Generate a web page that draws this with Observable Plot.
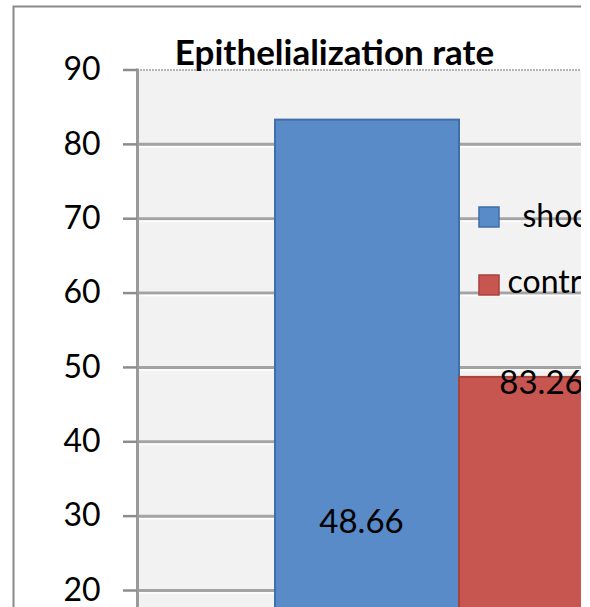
<!DOCTYPE html>
<html>
<head>
<meta charset="utf-8">
<script src="https://cdn.jsdelivr.net/npm/d3@7"></script>
<script src="https://cdn.jsdelivr.net/npm/@observablehq/plot@0.6"></script>
<style>
  html, body { margin: 0; padding: 0; background: white; }
  #wrap { width: 581px; height: 607px; overflow: hidden; position: relative; }
</style>
</head>
<body>
<div id="wrap"></div>
<script>
const title = "Epithelialization rate";
const series = ["shock wave", "control"];
const values = [83.26, 48.66];
const labels = ["48.66", "83.26"];
const colors = ["#588bc8", "#c85650"];
const strokes = ["#3f6fa8", "#a9423d"];
const yTicks = [20, 30, 40, 50, 60, 70, 80, 90];

const data = series.map((s, i) => ({name: s, value: values[i], label: labels[i]}));

const W = 581, H = 607, ML = 137, MT = 69.5;
const labelDx = [-6, -10];
const labelDy = [402, 6];
const legendDy = [147, 215];
const legendTextDx = [385, 370];
const legendTextDy = [146.5, 213];

const marks = [
  // outer chart border
  Plot.frame({stroke: "#8a8a8a", strokeWidth: 2, insetLeft: -(ML - 13), insetTop: -(MT - 6), insetRight: -4, insetBottom: -4}),
  // plot area background
  Plot.frame({fill: "#f2f2f2"}),
  // gridlines
  Plot.ruleY(yTicks.filter(d => d < 90), {stroke: "#a3a3a3", strokeWidth: 3}),
  Plot.ruleY(yTicks.filter(d => d < 90), {stroke: "#ffffff", strokeWidth: 1.5, dy: 2.5}),
  // top plot border (dotted)
  Plot.ruleY([90], {stroke: "#b5b5b5", strokeWidth: 2, strokeDasharray: "2,1"}),
  // bars
  Plot.barY(data, {x: "name", y: "value", fill: "name", stroke: (d, i) => strokes[i], strokeWidth: 2}),
  // value labels
  ...data.map((d, i) => Plot.text([d], {x: "name", y: "value", text: "label", dx: labelDx[i], dy: labelDy[i], fontSize: 33, fill: "black"})),
  // y axis line
  Plot.frame({anchor: "left", stroke: "#9a9a9a", strokeWidth: 3}),
  Plot.axisY(yTicks, {tickSize: 14, tickPadding: 23, fontSize: 32, stroke: "#8c8c8c", strokeWidth: 2.5, fill: "black", label: null, tickFormat: d => String(d)}),
  // title
  Plot.text([title], {frameAnchor: "top-left", dx: 197, dy: -16, fontSize: 35, fontWeight: "bold", textAnchor: "middle", lineAnchor: "middle", fill: "black"}),
  // legend
  ...series.map((s, i) => Plot.dot([s], {frameAnchor: "top-left", dx: 351.5, dy: legendDy[i], symbol: "square", r: 11.3, fill: colors[i], stroke: strokes[i], strokeWidth: 1.5})),
  ...series.map((s, i) => Plot.text([s], {frameAnchor: "top-left", dx: legendTextDx[i], dy: legendTextDy[i], text: d => d, textAnchor: "start", lineAnchor: "middle", fontSize: 32, fill: "black"}))
];

const chart = Plot.plot({
  width: W,
  height: H,
  marginLeft: ML,
  marginTop: MT,
  marginRight: 0,
  marginBottom: 0,
  style: {fontFamily: "Lato, sans-serif", fontSize: "32px", background: "white", overflow: "hidden"},
  x: {type: "band", domain: series, range: [274, 643], padding: 0, axis: null},
  y: {domain: [20, 90], range: [590, MT], axis: null},
  color: {domain: series, range: colors},
  marks
});
document.getElementById("wrap").appendChild(chart);
</script>
</body>
</html>
